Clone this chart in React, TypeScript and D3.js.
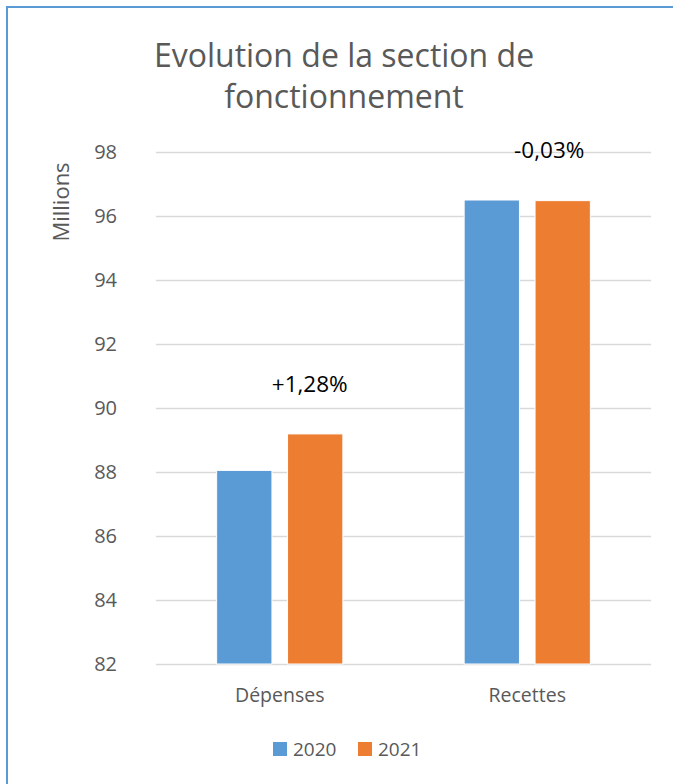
import { useRef, useEffect } from "react";
import * as d3 from "d3";

const categories = ["Dépenses", "Recettes"];
const years = ["2020", "2021"];
const values2020 = [88.05, 96.5];
const values2021 = [89.19, 96.48];
const changeLabels = ["+1,28%", "-0,03%"];
const yTicks = [82, 84, 86, 88, 90, 92, 94, 96, 98];
const colors = ["#5B9BD5", "#ED7D31"];

const W = 673;
const H = 784;
const FONT = "'Open Sans', sans-serif";

export default function App() {
  const svgRef = useRef<SVGSVGElement>(null);

  useEffect(() => {
    if (!svgRef.current) return;
    const svg = d3.select(svgRef.current);
    svg.selectAll("*").remove();

    const margin = { top: 152, right: 22, bottom: 120, left: 156 };
    const width = W - margin.left - margin.right;
    const height = H - margin.top - margin.bottom;

    svg.append("rect").attr("width", W).attr("height", H).attr("fill", "#fff");

    // frame (only left and top edges fall inside the picture)
    svg.append("path")
      .attr("d", `M7,${H} L7,7 L${W},7`)
      .attr("fill", "none")
      .attr("stroke", "#5B9BD5")
      .attr("stroke-width", 2);

    // title
    const title = svg.append("text")
      .attr("text-anchor", "middle")
      .attr("fill", "#595959")
      .attr("font-family", FONT)
      .attr("font-size", "32px");
    title.append("tspan").attr("x", 344).attr("y", 67).text("Evolution de la section de");
    title.append("tspan").attr("x", 344).attr("y", 108).text("fonctionnement");

    const g = svg.append("g").attr("transform", `translate(${margin.left},${margin.top})`);

    const x0 = d3.scaleBand().domain(categories).range([0, width]).paddingInner(0.49).paddingOuter(0.245);
    const x1 = d3.scaleBand().domain(years).range([0, x0.bandwidth()]).paddingInner(0.22);
    const y = d3.scaleLinear().domain([82, 98]).range([height, 0]);

    // grid
    g.selectAll(".grid")
      .data(yTicks)
      .enter()
      .append("line")
      .attr("x1", 0).attr("x2", width)
      .attr("y1", (d) => Math.round(y(d)) + 0.5)
      .attr("y2", (d) => Math.round(y(d)) + 0.5)
      .attr("stroke", "#D9D9D9")
      .attr("stroke-width", 1.5);

    // y labels
    g.selectAll(".ytick")
      .data(yTicks)
      .enter()
      .append("text")
      .attr("x", -39)
      .attr("y", (d) => y(d))
      .attr("dy", "0.35em")
      .attr("text-anchor", "end")
      .attr("fill", "#595959")
      .attr("font-family", FONT)
      .attr("font-size", "20px")
      .text((d) => d);

    svg.append("text")
      .attr("transform", `translate(69,${202}) rotate(-90)`)
      .attr("text-anchor", "middle")
      .attr("fill", "#595959")
      .attr("font-family", FONT)
      .attr("font-size", "22px")
      .text("Millions");

    const series = [values2020, values2021];
    const groups = g.selectAll(".grp")
      .data(categories)
      .enter()
      .append("g")
      .attr("transform", (d) => `translate(${x0(d)},0)`);

    groups.each(function (cat, i) {
      const sel = d3.select(this);
      years.forEach((yr, j) => {
        const v = series[j][i];
        sel.append("rect")
          .attr("x", x1(yr)!)
          .attr("width", x1.bandwidth())
          .attr("y", y(v))
          .attr("height", y(82) - y(v))
          .attr("fill", colors[j])
          .attr("stroke", "#fff")
          .attr("stroke-width", 1);
      });
    });

    // change labels
    const labelShift = [30, 22];
    g.selectAll(".chg")
      .data(categories)
      .enter()
      .append("text")
      .attr("x", (d, i) => x0(d)! + x0.bandwidth() / 2 + labelShift[i])
      .attr("y", (d, i) => y(Math.max(values2020[i], values2021[i])) - 42)
      .attr("text-anchor", "middle")
      .attr("fill", "#000")
      .attr("font-family", FONT)
      .attr("font-size", "22.5px")
      .text((d, i) => changeLabels[i]);

    // category labels
    g.selectAll(".cat")
      .data(categories)
      .enter()
      .append("text")
      .attr("x", (d) => x0(d)! + x0.bandwidth() / 2)
      .attr("y", height + 38)
      .attr("text-anchor", "middle")
      .attr("fill", "#595959")
      .attr("font-family", FONT)
      .attr("font-size", "19.5px")
      .text((d) => d);

    // legend
    const legendX = [273, 358];
    const leg = svg.selectAll(".leg")
      .data(years)
      .enter()
      .append("g")
      .attr("transform", (d, i) => `translate(${legendX[i]},742)`);
    leg.append("rect").attr("width", 14).attr("height", 14).attr("fill", (d, i) => colors[i]);
    leg.append("text")
      .attr("x", 20).attr("y", 7).attr("dy", "0.35em")
      .attr("fill", "#595959")
      .attr("font-family", FONT)
      .attr("font-size", "19px")
      .text((d) => d);
  }, []);

  return (
    <div style={{ position: "absolute", left: 0, top: 0, width: W, height: H, overflow: "hidden" }}>
      <svg ref={svgRef} width={W} height={H} style={{ display: "block" }} />
    </div>
  );
}
